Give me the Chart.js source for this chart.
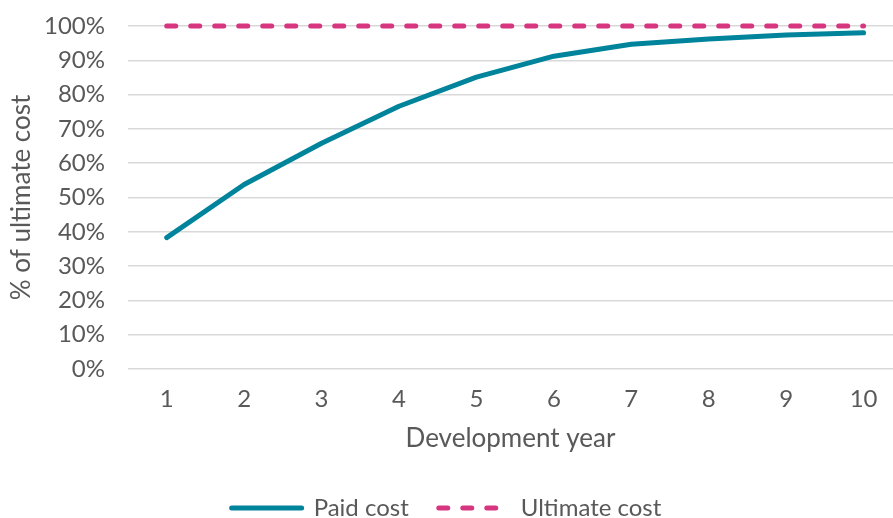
<!DOCTYPE html>
<html>
<head>
<meta charset="utf-8">
<script src="https://cdn.jsdelivr.net/npm/chart.js@4"></script>
<style>
  html, body { margin: 0; padding: 0; background: #fff; }
  #wrap { width: 893px; height: 518px; }
</style>
</head>
<body>
<div id="wrap"><canvas id="chart" width="893" height="518"></canvas></div>
<script>
  const years = [1, 2, 3, 4, 5, 6, 7, 8, 9, 10];
  const paidCost = [38.3, 53.8, 65.8, 76.6, 85.1, 91.2, 94.7, 96.2, 97.4, 98.0];
  const ultimateCost = [100, 100, 100, 100, 100, 100, 100, 100, 100, 100];
  const yTicks = [0, 10, 20, 30, 40, 50, 60, 70, 80, 90, 100];

  const textColor = '#595959';
  const tickFont = { family: 'Lato', size: 24 };
  const titleFont = { family: 'Lato', size: 26 };

  const ctx = document.getElementById('chart').getContext('2d');
  const chart = new Chart(ctx, {
    type: 'line',
    data: {
      datasets: [
        {
          label: 'Paid cost',
          data: years.map((x, i) => ({ x: x, y: paidCost[i] })),
          borderColor: '#00849c',
          backgroundColor: '#00849c',
          borderWidth: 5,
          borderCapStyle: 'round',
          borderJoinStyle: 'round',
          pointRadius: 0,
          pointStyle: 'line',
          clip: false,
          tension: 0
        },
        {
          label: 'Ultimate cost',
          data: years.map((x, i) => ({ x: x, y: ultimateCost[i] })),
          borderColor: '#d6367f',
          backgroundColor: '#d6367f',
          borderWidth: 5,
          borderDash: [9, 15],
          borderCapStyle: 'round',
          pointRadius: 0,
          pointStyle: 'line',
          clip: false
        }
      ]
    },
    options: {
      responsive: false,
      animation: false,
      layout: { padding: { top: 0, right: 0, left: 0, bottom: -12 } },
      plugins: {
        tooltip: { enabled: false },
        legend: {
          position: 'bottom',
          labels: {
            usePointStyle: true,
            pointStyleWidth: 70,
            color: textColor,
            font: { family: 'Lato', size: 24 },
            padding: 30,
            generateLabels: c => {
              const items = Chart.defaults.plugins.legend.labels.generateLabels(c);
              items.forEach(it => {
                const ds = c.data.datasets[it.datasetIndex];
                it.lineDash = ds.borderDash || [];
                it.lineWidth = ds.borderWidth;
                it.lineCap = 'round';
                it.strokeStyle = ds.borderColor;
              });
              return items;
            }
          }
        }
      },
      scales: {
        x: {
          type: 'linear',
          min: 0.5,
          max: 10.38,
          afterBuildTicks: s => { s.ticks = years.map(v => ({ value: v })); },
          afterFit: s => { s.height = 97; },
          grid: { display: false },
          border: { display: false },
          ticks: { color: textColor, font: tickFont, padding: 8, autoSkip: false, maxRotation: 0 },
          title: { display: true, text: 'Development year', color: textColor, font: titleFont, padding: { top: 0, bottom: 12 } }
        },
        y: {
          min: 0,
          max: 100,
          afterBuildTicks: s => { s.ticks = yTicks.map(v => ({ value: v })); },
          afterFit: s => { s.width = 128; s.paddingTop = 26; },
          grid: { color: '#d9d9d9', lineWidth: 1.5, drawTicks: false },
          border: { display: false },
          ticks: { color: textColor, font: tickFont, padding: 23, autoSkip: false, callback: v => v + '%' },
          title: { display: true, text: '% of ultimate cost', color: textColor, font: titleFont, padding: { top: 6, bottom: 0 } }
        }
      }
    }
  });
</script>
</body>
</html>
